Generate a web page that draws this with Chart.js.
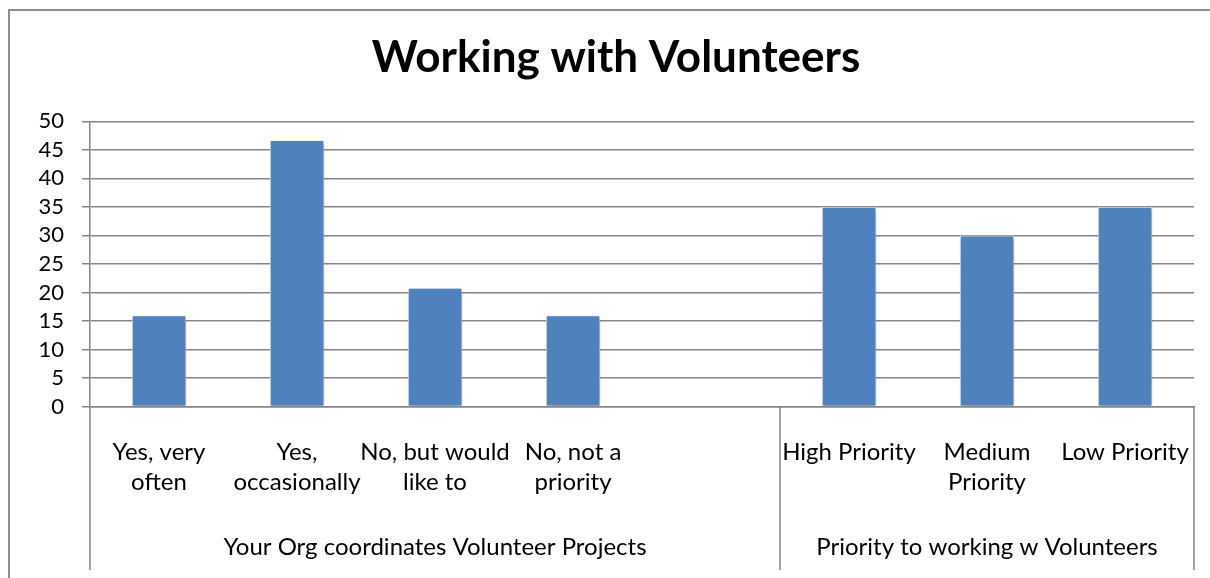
<!DOCTYPE html>
<html>
<head>
<meta charset="utf-8">
<script src="https://cdn.jsdelivr.net/npm/chart.js@4.4.1/dist/chart.umd.min.js"></script>
<style>
    html, body { margin: 0; padding: 0; background: #fff; overflow: hidden; }
    #frame { position: absolute; left: 8px; top: 9px; width: 1300px; height: 700px; border: 2px solid #8e8e8e; }
    #wrap { position: absolute; left: 0; top: 0; width: 1210px; height: 578px; }
</style>
</head>
<body>
<div id="frame"></div>
<div id="wrap"><canvas id="chart"></canvas></div>
<script>
// categories (blank slot separates the two question groups)
const categories = [
    ['Yes, very', 'often'],
    ['Yes,', 'occasionally'],
    ['No, but would', 'like to'],
    ['No, not a', 'priority'],
    '',
    'High Priority',
    ['Medium', 'Priority'],
    'Low Priority'
];
const values = [16, 46.7, 20.8, 16, null, 35, 30, 35];

// second level of the category axis
const groupLabels = ['Your Org coordinates Volunteer Projects', 'Priority to working w Volunteers'];
const groupStarts = [0, 5];
const groupEnds = [5, 8];

const yTicks = [0, 5, 10, 15, 20, 25, 30, 35, 40, 45, 50];

const gridGray = '#868686';
const groupCenters = groupStarts.map((s, i) => (s + groupEnds[i]) / 2);
const groupBounds = [...new Set(groupStarts.concat(groupEnds))];

// vertical separators under the axis (left, between groups, right)
const groupDividers = {
    id: 'groupDividers',
    afterDraw(chart) {
        const { ctx, chartArea } = chart;
        const x2 = chart.scales.x2;
        ctx.save();
        ctx.strokeStyle = gridGray;
        ctx.lineWidth = 1.5;
        groupBounds.forEach(v => {
            const px = Math.round(x2.getPixelForValue(v));
            ctx.beginPath();
            ctx.moveTo(px, chartArea.bottom);
            ctx.lineTo(px, x2.bottom);
            ctx.stroke();
        });
        ctx.restore();
    }
};

// soft drop shadow like the office bar style
const barShadow = {
    id: 'barShadow',
    beforeDatasetsDraw(chart) {
        const c = chart.ctx;
        c.save();
        c.shadowColor = 'rgba(0,0,0,0.35)';
        c.shadowBlur = 4;
        c.shadowOffsetX = 1.5;
        c.shadowOffsetY = 1.5;
    },
    afterDatasetsDraw(chart) {
        chart.ctx.restore();
    }
};

new Chart(document.getElementById('chart'), {
    type: 'bar',
    data: {
        labels: categories,
        datasets: [{
            data: values,
            backgroundColor: '#4F81BD',
            borderColor: '#ffffff',
            borderWidth: 1,
            barPercentage: 0.395,
            categoryPercentage: 1
        }]
    },
    options: {
        responsive: true,
        maintainAspectRatio: false,
        animation: false,
        layout: { padding: { left: 38, right: 16, top: 0, bottom: 8 } },
        plugins: {
            legend: { display: false },
            tooltip: { enabled: false },
            title: {
                display: true,
                text: 'Working with Volunteers',
                color: '#000',
                font: { family: 'Lato', size: 44, weight: 'bold', lineHeight: 1.2 },
                padding: { top: 31, bottom: 37.5 }
            }
        },
        scales: {
            x: {
                type: 'category',
                offset: true,
                grid: { display: false, drawTicks: false },
                border: { display: true, color: gridGray, width: 1.5 },
                afterFit: scale => {
                    scale.height = 100;
                    scale.paddingLeft = 0;
                    scale.paddingRight = 0;
                },
                ticks: {
                    color: '#000',
                    font: { family: 'Lato', size: 24, lineHeight: 1.25 },
                    padding: 31,
                    maxRotation: 0,
                    autoSkip: false
                }
            },
            x2: {
                type: 'linear',
                position: 'bottom',
                offset: false,
                min: 0,
                max: 8,
                grid: { display: false, drawTicks: false },
                border: { display: false },
                afterBuildTicks: scale => {
                    scale.ticks = groupCenters.map(v => ({ value: v }));
                },
                afterFit: scale => {
                    scale.height = 63.5;
                    scale.paddingLeft = 0;
                    scale.paddingRight = 0;
                },
                ticks: {
                    color: '#000',
                    font: { family: 'Lato', size: 24, lineHeight: 1.25 },
                    padding: 26,
                    maxRotation: 0,
                    autoSkip: false,
                    callback: (v, i) => groupLabels[i]
                }
            },
            y: {
                min: 0,
                max: 50,
                afterBuildTicks: scale => {
                    scale.ticks = yTicks.map(v => ({ value: v }));
                },
                afterFit: scale => { scale.width = 52; },
                grid: { color: gridGray, lineWidth: 1.5, tickLength: 8, tickColor: gridGray },
                border: { display: true, color: gridGray, width: 1.5 },
                ticks: {
                    color: '#000',
                    font: { family: 'Lato', size: 22 },
                    padding: 18,
                    autoSkip: false
                }
            }
        }
    },
    plugins: [barShadow, groupDividers]
});
</script>
</body>
</html>
